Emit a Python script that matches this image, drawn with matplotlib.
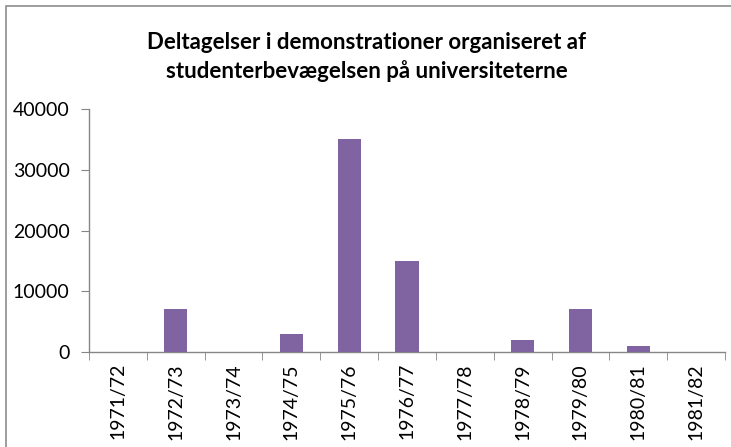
import matplotlib
matplotlib.use("Agg")
import matplotlib.pyplot as plt
from matplotlib.patches import Rectangle

categories = ["1971/72", "1972/73", "1973/74", "1974/75", "1975/76", "1976/77",
              "1977/78", "1978/79", "1979/80", "1980/81", "1981/82"]
values = [0, 7000, 0, 3000, 35000, 15000, 0, 2000, 7000, 1000, 0]
yticks = [0, 10000, 20000, 30000, 40000]
title = "Deltagelser i demonstrationer organiseret af\nstudenterbevægelsen på universiteterne"

plt.rcParams['font.family'] = ['Lato', 'DejaVu Sans']

W, H = 731, 447
fig = plt.figure(figsize=(W / 100, H / 100), dpi=100)
ax = fig.add_axes([89 / W, 1 - 352 / H, (725 - 89) / W, (352 - 109) / H])

x = list(range(len(categories)))
ax.bar(x, values, width=0.4, color="#8064A2", zorder=3)
ax.set_xlim(-0.5, len(categories) - 0.5)
ax.set_ylim(0, 40000)
ax.set_yticks(yticks)
ax.set_yticklabels([str(v) for v in yticks], fontsize=14)

ax.set_xticks(x)
ax.set_xticklabels(categories, rotation=90, fontsize=14)
ax.tick_params(axis='x', length=0, pad=8)
ax.set_xticks([i - 0.5 for i in range(len(categories) + 1)], minor=True)
ax.tick_params(axis='x', which='minor', length=6, color="#868686", direction='out')
ax.tick_params(axis='y', length=6, color="#868686", direction='out', pad=8)

for s in ['top', 'right']:
    ax.spines[s].set_visible(False)
for s in ['left', 'bottom']:
    ax.spines[s].set_color("#868686")
    ax.spines[s].set_linewidth(1)

fig.text(367 / W, 1 - 57 / H, title, ha='center', va='center', fontsize=16,
         fontweight='bold', linespacing=1.35)

fig.patches.append(Rectangle((6 / W, -0.05), 1.1, 1 - 6 / H + 0.05,
                             transform=fig.transFigure, fill=False,
                             edgecolor="#8c8c8c", linewidth=1.2))

fig.savefig("out.png", dpi=100)
